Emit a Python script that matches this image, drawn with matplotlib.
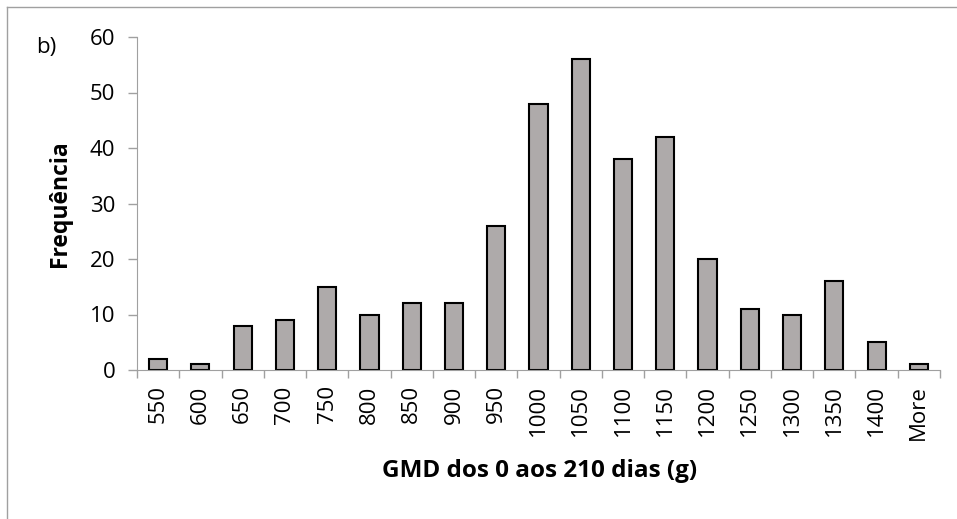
import numpy as np
import matplotlib.pyplot as plt
from matplotlib.lines import Line2D

# classes do histograma e frequências
classes = ['550', '600', '650', '700', '750', '800', '850', '900', '950', '1000',
           '1050', '1100', '1150', '1200', '1250', '1300', '1350', '1400', 'More']
freq = [2, 1, 8, 9, 15, 10, 12, 12, 26, 48, 56, 38, 42, 20, 11, 10, 16, 5, 1]

plt.rcParams['font.family'] = ['Open Sans', 'DejaVu Sans']

fig = plt.figure(figsize=(9.57, 5.19), dpi=100)
ax = fig.add_axes([137 / 957, 149 / 519, 803 / 957, 333 / 519])

x = np.arange(len(classes))
ax.bar(x, freq, width=0.43, color='#aeaaaa', edgecolor='black', linewidth=1.5)

ax.set_xlim(-0.5, len(classes) - 0.5)
ax.set_ylim(0, 60)
ax.set_yticks(range(0, 61, 10))

ax.set_xticks(x)
ax.set_xticklabels(classes, rotation=90, fontsize=16)
ax.set_xticks(np.arange(-0.5, len(classes), 1), minor=True)
ax.tick_params(axis='x', which='major', length=0, pad=11)
ax.tick_params(axis='x', which='minor', length=6, color='#a0a0a0', width=1)
ax.tick_params(axis='y', labelsize=16, length=6.5, color='#a0a0a0', width=1, pad=9)

for s in ['top', 'right']:
    ax.spines[s].set_visible(False)
ax.spines['left'].set_color('#a0a0a0')
ax.spines['bottom'].set_color('#a0a0a0')

ax.set_ylabel('Frequência', fontsize=16.5, fontweight='bold', va='center')
ax.yaxis.set_label_coords((60 - 137) / 803, 0.5)
ax.set_xlabel('GMD dos 0 aos 210 dias (g)', fontsize=17.5, fontweight='bold', va='center')
ax.xaxis.set_label_coords((540 - 137) / 803, (48 - 149) / 333)

fig.text(46 / 957, 1 - 48 / 519, 'b)', fontsize=16, ha='center', va='center')

# moldura (so topo e esquerda visiveis)
fig.add_artist(Line2D([7 / 957, 1], [1 - 7 / 519, 1 - 7 / 519], color='#a0a0a0', lw=1))
fig.add_artist(Line2D([7 / 957, 7 / 957], [0, 1 - 7 / 519], color='#a0a0a0', lw=1))

fig.savefig('out.png', dpi=100)
